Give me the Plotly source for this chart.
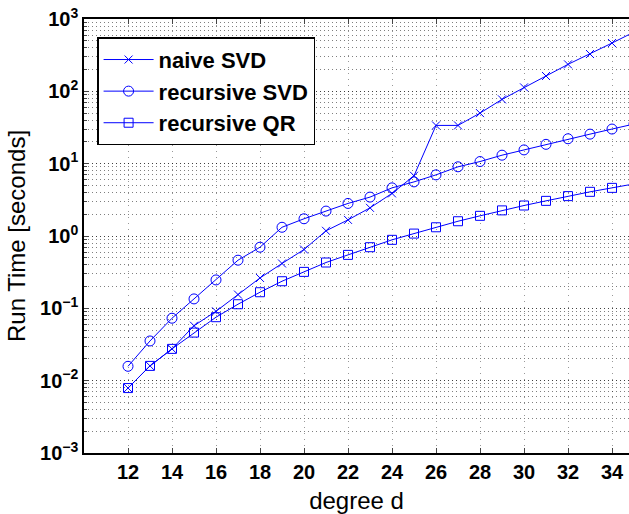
import plotly.graph_objects as go

# Polynomial degree d
degree = [12, 13, 14, 15, 16, 17, 18, 19, 20, 21, 22, 23, 24,
          25, 26, 27, 28, 29, 30, 31, 32, 33, 34, 35]

# Run times in seconds
naive_svd = [0.0079, 0.016, 0.0275, 0.0575, 0.091, 0.155, 0.263, 0.417,
             0.65, 1.18, 1.67, 2.45, 3.88, 6.8, 33.8, 33.8, 50.0, 77.4,
             113.5, 163.0, 236.0, 328.0, 465.0, 660.0]
recursive_svd = [0.0158, 0.0354, 0.073, 0.135, 0.247, 0.463, 0.70, 1.32,
                 1.73, 2.21, 2.82, 3.45, 4.63, 5.6, 7.0, 9.05, 10.7, 13.1,
                 15.5, 18.5, 22.1, 25.6, 30.1, 35.3]
recursive_qr = [0.0079, 0.016, 0.0275, 0.0462, 0.0754, 0.114, 0.167, 0.237,
                0.319, 0.43, 0.548, 0.70, 0.885, 1.08, 1.32, 1.60, 1.90,
                2.26, 2.64, 3.06, 3.56, 4.08, 4.63, 5.25]

x_ticks = [12, 14, 16, 18, 20, 22, 24, 26, 28, 30, 32, 34]
y_exponents = [-3, -2, -1, 0, 1, 2, 3]
y_ticks = [10.0 ** e for e in y_exponents]
y_labels = ["10<sup>%s</sup>" % (str(e).replace("-", "\u2212")) for e in y_exponents]

BLUE = "#0000ff"
FONT = "Liberation Sans, Arial, Helvetica, sans-serif"
HGRID = "rgba(0,0,0,0.5)"
VGRID = "rgba(0,0,0,0.4)"

fig = go.Figure()
series = [
    ("naive SVD", naive_svd, "x-thin-open", 8),
    ("recursive SVD", recursive_svd, "circle-open", 10),
    ("recursive QR", recursive_qr, "square-open", 9),
]
for name, vals, sym, size in series:
    fig.add_trace(go.Scatter(
        x=degree, y=vals, name=name, mode="lines+markers",
        line=dict(color=BLUE, width=1),
        marker=dict(symbol=sym, size=size, color=BLUE,
                    line=dict(color=BLUE, width=1)),
    ))

fig.update_layout(
    width=629, height=514,
    margin=dict(l=84, r=0, t=19, b=61),
    paper_bgcolor="white", plot_bgcolor="white",
    font=dict(family=FONT, color="black"),
    showlegend=True,
    legend=dict(
        x=0.024, y=0.958, xanchor="left", yanchor="top",
        bgcolor="white", bordercolor="black", borderwidth=1.5,
        itemwidth=50,
        font=dict(family=FONT, size=22, weight="bold", color="black"),
    ),
)

fig.update_xaxes(
    range=[10, 10 + 545 / 22],
    tickmode="array", tickvals=x_ticks,
    ticks="inside", ticklen=5, tickcolor="#444",
    showline=True, linecolor="black", linewidth=1.5, mirror="ticks",
    showgrid=True, gridcolor=VGRID, griddash="1px,5px", gridwidth=1,
    zeroline=False,
    tickfont=dict(family=FONT, size=20, weight="bold", color="black"),
    title=dict(text="degree d", font=dict(family=FONT, size=24, color="black"),
               standoff=10),
)

fig.update_yaxes(
    type="log", range=[-3, 3],
    tickmode="array", tickvals=y_ticks, ticktext=y_labels,
    ticks="inside", ticklen=5, tickcolor="#444",
    showline=True, linecolor="black", linewidth=1.5, mirror=False,
    showgrid=True, gridcolor=HGRID, griddash="1px,3px", gridwidth=1,
    zeroline=False,
    minor=dict(dtick="D1", ticks="inside", ticklen=3, tickcolor="#444",
               showgrid=True, gridcolor=HGRID, griddash="1px,3px", gridwidth=1),
    tickfont=dict(family=FONT, size=20, weight="bold", color="black"),
    title=dict(text="Run Time [seconds]",
               font=dict(family=FONT, size=24, color="black"), standoff=8),
)

fig.write_html("out.html")
